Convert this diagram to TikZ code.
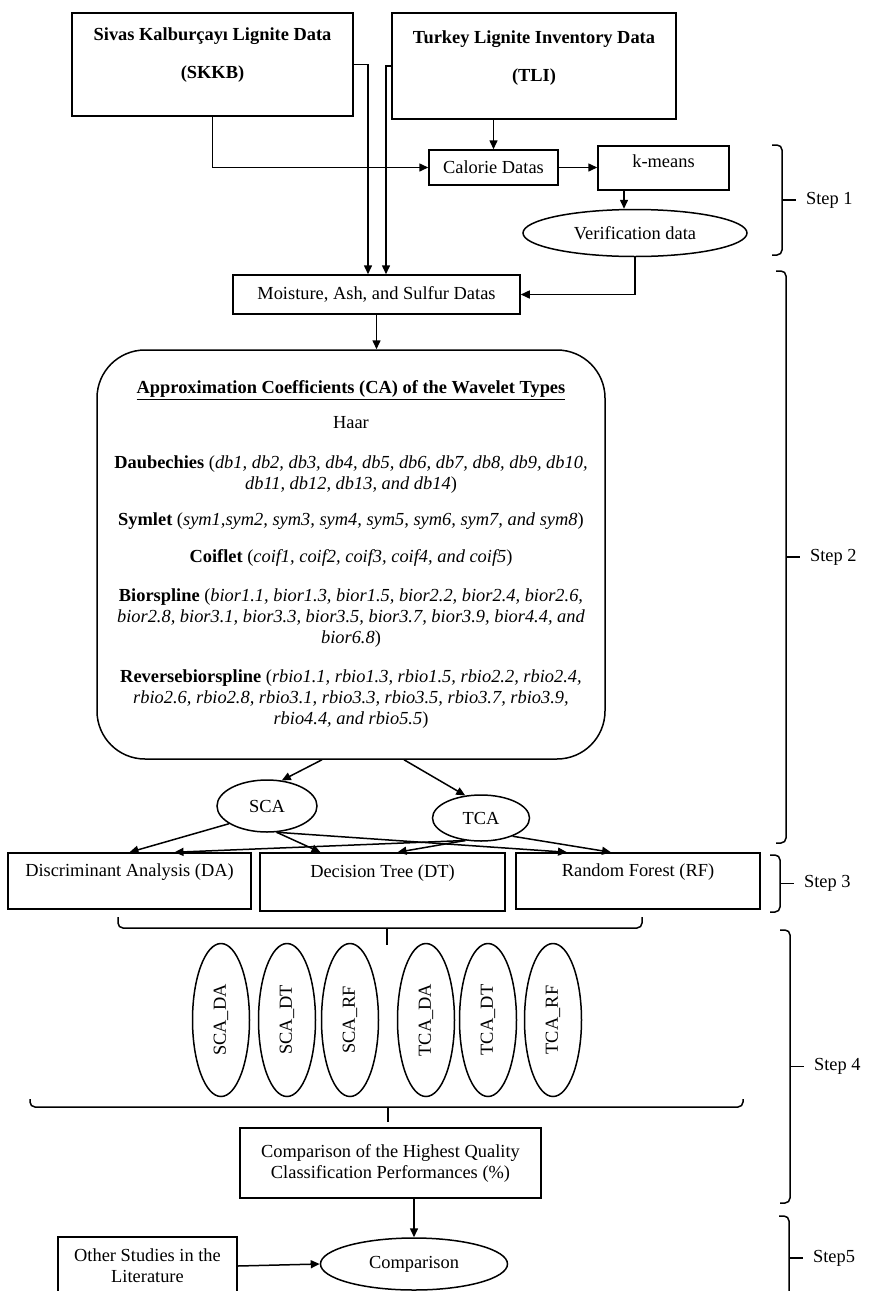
\documentclass[tikz,border=0pt]{standalone}
\usepackage{fontspec}
\setmainfont{Liberation Serif}
\usetikzlibrary{shapes.geometric,arrows.meta,calc}

\begin{document}
\begin{tikzpicture}[x=1pt,y=-1pt,line width=1.5pt,>={Triangle[length=9pt,width=8pt]},
    font=\fontsize{18.4}{21}\selectfont,
    box/.style={draw,rectangle,inner sep=0pt,align=center},
    oval/.style={draw,ellipse,inner sep=0pt},
    bold/.style={font=\fontsize{18.4}{21}\selectfont\bfseries,align=center},
    model/.style={draw,ellipse,inner sep=0pt,minimum width=153,minimum height=57,rotate=90},
    bracket/.style={rounded corners=5pt}]
    \useasboundingbox (0,0) rectangle (870,1291);

    % data sources
    \node[box,minimum width=281,minimum height=103] (skkb) at (212.5,64.5) {};
    \node[bold] (skkbtext) at (212.5,55) {Sivas Kalburçayı Lignite Data\\[17pt](SKKB)};
    \node[box,minimum width=284,minimum height=106] (tli) at (534,66) {};
    \node[bold] (tlitext) at (534,58) {Turkey Lignite Inventory Data\\[17pt](TLI)};

    % step 1
    \node[box,minimum width=129,minimum height=35] (calorie) at (493.5,167.5) {Calorie Datas};
    \node[box,minimum width=131,minimum height=44,text height=13pt,text depth=14pt] (kmeans) at (663.5,168) {k-means};
    \node[oval,minimum width=224,minimum height=47] (verif) at (635,233) {Verification data};

    % step 2
    \node[box,minimum width=287,minimum height=39] (moisture) at (376.5,294.5) {Moisture, Ash, and Sulfur Datas};
    \node[draw,rounded corners=48pt,minimum width=508,minimum height=409,align=center] (wavelet) at (351,554.5)
      {\underline{\textbf{Approximation Coefficients (CA) of the Wavelet Types}}\\[14pt]
       Haar\\[19pt]
       \textbf{Daubechies} (\textit{db1, db2, db3, db4, db5, db6, db7, db8, db9, db10,}\\
       \textit{db11, db12, db13, and db14})\\[15pt]
       \textbf{Symlet} (\textit{sym1,sym2, sym3, sym4, sym5, sym6, sym7, and sym8})\\[16pt]
       \textbf{Coiflet} (\textit{coif1, coif2, coif3, coif4, and coif5})\\[18pt]
       \textbf{Biorspline} (\textit{bior1.1, bior1.3, bior1.5, bior2.2, bior2.4, bior2.6,}\\
       \textit{bior2.8, bior3.1, bior3.3, bior3.5, bior3.7, bior3.9, bior4.4, and}\\
       \textit{bior6.8})\\[18pt]
       \textbf{Reversebiorspline} (\textit{rbio1.1, rbio1.3, rbio1.5, rbio2.2, rbio2.4,}\\
       \textit{rbio2.6, rbio2.8, rbio3.1, rbio3.3, rbio3.5, rbio3.7, rbio3.9,}\\
       \textit{rbio4.4, and rbio5.5})};
    \node[oval,minimum width=100,minimum height=52] (sca) at (267,806) {SCA};
    \node[oval,minimum width=97,minimum height=46] (tca) at (481,818) {TCA};

    % step 3
    \node[box,minimum width=243,minimum height=56,text height=13pt,text depth=22pt] (da) at (129.5,881) {Discriminant Analysis (DA)};
    \node[box,minimum width=245,minimum height=58,text height=13pt,text depth=22pt] (dt) at (382.5,882) {Decision Tree (DT)};
    \node[box,minimum width=244,minimum height=56,text height=13pt,text depth=22pt] (rf) at (638,881) {Random Forest (RF)};

    % step 4
    \foreach \src/\cls/\x in {SCA/DA/221,SCA/DT/287,SCA/RF/350,TCA/DA/426,TCA/DT/488,TCA/RF/553}
      \node[model] (\src\cls) at (\x,1020) {\src\_\cls};
    \node[box,minimum width=301,minimum height=70] (quality) at (390.5,1163)
      {Comparison of the Highest Quality\\Classification Performances (\%)};

    % step 5
    \node[oval,minimum width=187,minimum height=52] (compare) at (414,1264) {Comparison};
    \node[box,minimum width=179,minimum height=58] (other) at (147.5,1266) {Other Studies in the\\Literature};

    % connectors
    \coordinate (skkbturn) at (368,64.5);
    \coordinate (tliturn) at (386,66);
    \coordinate (kdrop) at ($(verif.north)+(-11,0)$);
    \draw[->] (skkb.east) -- (skkbturn) -- (skkbturn |- moisture.north);
    \draw[->] (tli.west) -- (tliturn) -- (tliturn |- moisture.north);
    \draw[->] (skkb.south) |- (calorie.west);
    \draw[->] (calorie.north |- tli.south) -- (calorie.north);
    \draw[->] (calorie.east) -- (kmeans.west |- calorie.east);
    \draw[->] (kdrop |- kmeans.south) -- (kdrop);
    \draw[->] (verif.south) |- (moisture.east);
    \draw[->] (moisture.south) -- (moisture.south |- wavelet.north);
    \draw[->] ($(wavelet.south)+(-29,0)$) -- (sca.60);
    \draw[->] ($(wavelet.south)+(53,0)$) -- (tca.125);
    \draw[->] (sca.205) -- (da.north);
    \draw[->] (sca.290) -- ($(dt.north)+(-62,0)$);
    \draw[->] (sca.290) -- ($(rf.north)+(-71,0)$);
    \draw[->] (tca.235) -- ($(da.north)+(45,0)$);
    \draw[->] (tca.235) -- ($(dt.north)+(15,0)$);
    \draw[->] (tca.330) -- ($(rf.north)+(-27,0)$);
    \draw[->] (quality.south -| compare.north) -- (compare.north);
    \draw[->] (other.east) -- (compare.west);

    % brackets
    \draw[bracket] (118,917) -- (118,928) -- (642,928) -- (642,917);
    \draw (387,928) -- (387,945);
    \draw[bracket] (30,1099) -- (30,1107) -- (743,1107) -- (743,1099);
    \draw (388,1107) -- (388,1122);
    \foreach \lab/\top/\bot/\x [count=\i] in {Step 1/145/255/782,Step 2/271/843/786,Step 3/855/912/780,Step 4/930/1203/790,Step5/1216/1300/789} {
      \draw[bracket] (\x-10,\top) -- (\x,\top) -- (\x,\bot) -- (\x-10,\bot);
      \coordinate (tick\i) at ($(\x,\top)!0.5!(\x,\bot)$);
      \draw (tick\i) -- ++(14,0);
      \node[anchor=west] (step\i) at ($(tick\i)+(20,0)$) {\lab};
    }
  \end{tikzpicture}
\end{document}
